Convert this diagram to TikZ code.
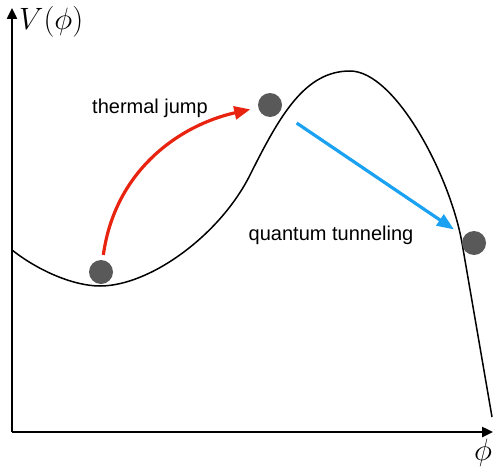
\documentclass[tikz,border=0pt]{standalone}
\usepackage{graphicx}
\usepackage{fontspec}
\setsansfont{Liberation Sans}
\usepackage{tikz}
\usetikzlibrary{arrows.meta}
\definecolor{balldark}{RGB}{89,89,89}
\definecolor{jumpred}{RGB}{232,35,15}
\definecolor{tunnelblue}{RGB}{27,161,242}
\newcommand{\biglab}[1]{\scalebox{1.24}{$#1$}}
\tikzset{
  axis/.style={black,line width=2.4pt,-{Triangle[length=11pt,width=10pt]}},
  potential/.style={black,line width=1.5pt},
  ball/.style={circle,fill=balldark,draw=none,minimum size=24pt,inner sep=0pt},
  jump/.style={jumpred,line width=3.2pt,-{Triangle[length=16pt,width=13pt]}},
  tunnel/.style={tunnelblue,line width=3.2pt,-{Triangle[length=17pt,width=13pt]}},
  lab/.style={font=\sffamily\fontsize{20}{24}\selectfont,inner sep=0pt,anchor=base},
  axlab/.style={font=\fontsize{24.88}{30}\selectfont,inner sep=0pt,anchor=base west},
}
\begin{document}
\begin{tikzpicture}[x=1pt,y=1pt]
  \path[use as bounding box] (0,0) rectangle (494,467);

  % axes
  \coordinate (origin) at (12,35);
  \coordinate (ytip) at (12,459);
  \coordinate (xtip) at (493,35);
  \draw[axis] (origin) -- (ytip);
  \draw[axis] (origin) -- (xtip);
  \node[axlab] (vlab) at (19,437) {\biglab{V(\phi)}};
  \node[axlab] (philab) at (474,6.5) {\biglab{\phi}};

  % potential
  \draw[potential] (12,217) .. controls (40,195) and (75,181) .. (100,181)
    .. controls (150,181) and (220,232) .. (250,292)
    .. controls (280,352) and (305,396) .. (350,396)
    .. controls (395,396) and (450,292) .. (462,224) -- (492,50);

  \node[ball] (vacA) at (101,195) {};
  \node[ball] (top) at (270,362) {};
  \node[ball] (vacB) at (474,224) {};

  \draw[jump,shorten <=5pt,shorten >=8pt] (vacA) .. controls (115,297) and (180,342) .. (top);
  \draw[tunnel,shorten <=20pt,shorten >=12pt] (top) -- (vacB);

  \node[lab] (thermal) at (150,354) {thermal jump};
  \node[lab] (quantum) at (331,227) {quantum tunneling};
\end{tikzpicture}
\end{document}
